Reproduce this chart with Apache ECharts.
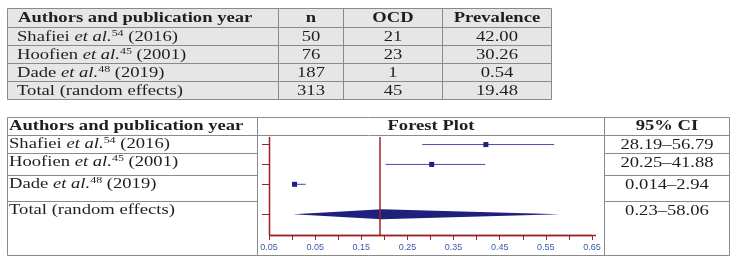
<!DOCTYPE html>
<html>
<head>
<meta charset="utf-8">
<script src="https://cdn.jsdelivr.net/npm/echarts@6/dist/echarts.min.js"></script>
<style>html,body{margin:0;padding:0;background:#fff}#c{width:738px;height:266px}</style>
</head>
<body>
<div id="c"></div>
<script>
// ---- data ----
const topHeaders = ['Authors and publication year', 'n', 'OCD', 'Prevalence'];
const authors = ['Shafiei', 'Hoofien', 'Dade'];
const refs = ['54', '45', '48'];
const years = ['2016', '2001', '2019'];
const totalLabel = 'Total (random effects)';
const nValues = ['50', '76', '187', '313'];
const ocdValues = ['21', '23', '1', '45'];
const prevalence = ['42.00', '30.26', '0.54', '19.48'];
const bottomHeaders = ['Authors and publication year', 'Forest Plot', '95% CI'];
const ciLabels = ['28.19\u201356.79', '20.25\u201341.88', '0.014\u20132.94', '0.23\u201358.06'];
const estimates = [0.42, 0.3026, 0.0054];
const ciLow = [0.2819, 0.2025, 0.00014];
const ciHigh = [0.5679, 0.4188, 0.0294];
const pooled = [0.0023, 0.1948, 0.5806];
const rowPos = [0, 1, 2, 3.5];
const xTickValues = [-0.05, 0.05, 0.15, 0.25, 0.35, 0.45, 0.55, 0.65];
const xTickLabels = ['0.05', '0.05', '0.15', '0.25', '0.35', '0.45', '0.55', '0.65'];
const xAllTicks = [-0.05, 0, 0.05, 0.1, 0.15, 0.2, 0.25, 0.3, 0.35, 0.4, 0.45, 0.5, 0.55, 0.6, 0.65];
const xRange = [-0.05, 0.65];
const yRange = [-0.38, 4.55];

// ---- layout / style ----
const SERIF = '"Liberation Serif", "Times New Roman", serif';
const SX = 1.33;
const FS = 14;
const BORDER = '#8a8a8a';
const TXT = '#1e1e1e';
const RED = '#9e2424';
const NAVY = '#1f1f7c';
const CIBLUE = '#4a4ab4';
const GRID = { left: 269, right: 146, top: 137, bottom: 31 };

const richStyles = {
  r: { fontFamily: SERIF, fontSize: FS, fill: TXT, lineHeight: 16 },
  i: { fontFamily: SERIF, fontSize: FS, fontStyle: 'italic', fill: TXT, lineHeight: 16 },
  s: { fontFamily: SERIF, fontSize: 9, fill: TXT, lineHeight: 9, verticalAlign: 'top' },
  b: { fontFamily: SERIF, fontSize: FS, fontWeight: 'bold', fill: TXT, lineHeight: 16 }
};
function authorText(i) {
  return i < authors.length
    ? '{r|' + authors[i] + ' }{i|et al.}{s|' + refs[i] + '}{r| (' + years[i] + ')}'
    : '{r|' + totalLabel + '}';
}
function txt(x, y, content, align) {
  return { type: 'text', x: x, y: y, scaleX: SX, silent: true, z: 10,
    style: { text: content, x: 0, y: 0, align: align, verticalAlign: 'middle', rich: richStyles } };
}
function ln(x1, y1, x2, y2, color, w) {
  return { type: 'line', silent: true, z: color ? 100 : 5, shape: { x1, y1, x2, y2 }, style: { stroke: color || BORDER, lineWidth: w || 1 } };
}

const g = [];
// top table
const tX = [7.5, 278.5, 343.5, 442.5, 551.5];
const tY = [8.5, 27.5, 45.5, 63.5, 81.5, 99.5];
g.push({ type: 'rect', silent: true, z: 1, shape: { x: tX[0], y: tY[0], width: tX[4] - tX[0], height: tY[5] - tY[0] }, style: { fill: '#e6e6e6' } });
tY.forEach(y => g.push(ln(tX[0], y, tX[4], y)));
tX.forEach(x => g.push(ln(x, tY[0], x, tY[5])));
g.push(txt(18, (tY[0] + tY[1]) / 2, '{b|' + topHeaders[0] + '}', 'left'));
for (let c = 1; c < 4; c++) g.push(txt((tX[c] + tX[c + 1]) / 2, (tY[0] + tY[1]) / 2, '{b|' + topHeaders[c] + '}', 'center'));
const cols = [nValues, ocdValues, prevalence];
for (let r = 0; r < 4; r++) {
  const yc = (tY[r + 1] + tY[r + 2]) / 2 + 0.5;
  g.push(txt(17, yc, authorText(r), 'left'));
  for (let c = 0; c < 3; c++) g.push(txt((tX[c + 1] + tX[c + 2]) / 2, yc, '{r|' + cols[c][r] + '}', 'center'));
}
// bottom table
const bX = [7.5, 257.5, 604.5, 729.5];
const bY = [117.5, 135.5, 153.5, 175.5, 201.5, 255.5];
[bY[0], bY[1], bY[5]].forEach(y => g.push(ln(bX[0], y, bX[3], y)));
bX.forEach(x => g.push(ln(x, bY[0], x, bY[5])));
[bY[2], bY[3], bY[4]].forEach(y => { g.push(ln(bX[0], y, bX[1], y)); g.push(ln(bX[2], y, bX[3], y)); });
g.push(txt(9, (bY[0] + bY[1]) / 2, '{b|' + bottomHeaders[0] + '}', 'left'));
g.push(txt((bX[1] + bX[2]) / 2, (bY[0] + bY[1]) / 2, '{b|' + bottomHeaders[1] + '}', 'center'));
g.push(txt((bX[2] + bX[3]) / 2, (bY[0] + bY[1]) / 2, '{b|' + bottomHeaders[2] + '}', 'center'));
for (let r = 0; r < 4; r++) {
  const yc = bY[r + 1] + 9;
  g.push(txt(9, yc, authorText(r), 'left'));
  g.push(txt((bX[2] + bX[3]) / 2, yc + 1, '{r|' + ciLabels[r] + '}', 'center'));
}
// plot-area frame lines (left and bottom edges of the grid)
const gx = GRID.left + 0.5, gyTop = GRID.top, gyBot = 266 - GRID.bottom + 0.5, gxRight = 738 - GRID.right + 4;
g.push(ln(gx, gyTop, gx, gyBot, RED, 1.3));
g.push(ln(gx, gyBot, gxRight, gyBot, RED, 1.3));

const chart = echarts.init(document.getElementById('c'), null, { renderer: 'canvas' });
const ciData = estimates.map((e, i) => [ciLow[i], ciHigh[i], rowPos[i]]);
const pointData = estimates.map((e, i) => [e, rowPos[i]]);
chart.setOption({
  animation: false,
  backgroundColor: '#fff',
  grid: { left: GRID.left, right: GRID.right, top: GRID.top, bottom: GRID.bottom, containLabel: false },
  xAxis: {
    type: 'value', min: xRange[0], max: xRange[1], position: 'bottom',
    axisLine: { show: false, onZero: false },
    axisTick: { show: true, customValues: xAllTicks, length: 5, lineStyle: { color: RED } },
    axisLabel: { customValues: xTickValues, color: '#3a5cae', fontSize: 9, fontFamily: 'Liberation Sans, Arial, sans-serif', margin: 8,
      formatter: v => xTickLabels[xTickValues.findIndex(t => Math.abs(t - v) < 1e-6)] },
    splitLine: { show: false }
  },
  yAxis: {
    type: 'value', inverse: true, min: yRange[0], max: yRange[1], position: 'left',
    axisLine: { show: false, onZero: false },
    axisTick: { show: true, customValues: rowPos, length: 7, lineStyle: { color: RED } },
    axisLabel: { show: false },
    splitLine: { show: false }
  },
  graphic: { elements: g },
  series: [
    {
      type: 'custom', silent: true, z: 3,
      data: ciData,
      renderItem: (params, api) => {
        const p1 = api.coord([api.value(0), api.value(2)]);
        const p2 = api.coord([api.value(1), api.value(2)]);
        return { type: 'line', shape: { x1: p1[0], y1: p1[1], x2: p2[0], y2: p2[1] }, style: { stroke: CIBLUE, lineWidth: 1 } };
      }
    },
    {
      type: 'scatter', symbol: 'rect', symbolSize: 5, z: 4, silent: true, clip: false,
      itemStyle: { color: NAVY, opacity: 1 },
      data: pointData,
      markLine: {
        silent: true, symbol: 'none', label: { show: false },
        lineStyle: { color: RED, width: 1.5, type: 'solid' },
        data: [
          { xAxis: pooled[1] },
          { xAxis: xRange[0], lineStyle: { width: 1.3 } },
          { yAxis: yRange[1], lineStyle: { width: 1.3 } }
        ]
      }
    },
    {
      type: 'custom', silent: true, z: 2,
      data: [[pooled[0], pooled[1], pooled[2], rowPos[3]]],
      renderItem: (params, api) => {
        const y = api.value(3);
        const l = api.coord([api.value(0), y]);
        const c = api.coord([api.value(1), y]);
        const r = api.coord([api.value(2), y]);
        const h = 5;
        return { type: 'polygon', shape: { points: [[l[0], l[1]], [c[0], c[1] - h], [r[0], r[1]], [c[0], c[1] + h]] }, style: { fill: NAVY } };
      }
    }
  ]
});
</script>
</body>
</html>
